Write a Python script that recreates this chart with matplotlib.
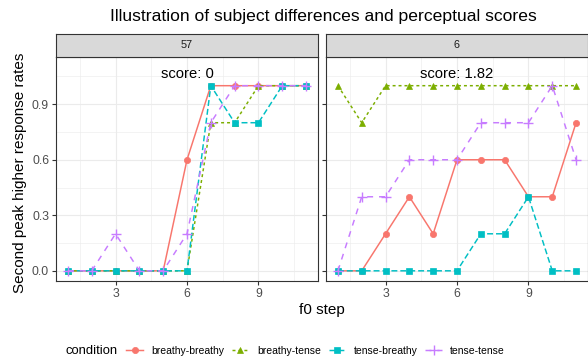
import matplotlib
matplotlib.use("Agg")
from matplotlib import pyplot as plt
from matplotlib.lines import Line2D

plt.rcParams['font.family'] = ['Liberation Sans', 'DejaVu Sans']

# data
steps = [1, 2, 3, 4, 5, 6, 7, 8, 9, 10, 11]
conditions = ["breathy-breathy", "breathy-tense", "tense-breathy", "tense-tense"]
subjects = ["57", "6"]
scores = ["score: 0", "score: 1.82"]

s57_bb = [0, 0, 0, 0, 0, 0.6, 1, 1, 1, 1, 1]
s57_bt = [0, 0, 0, 0, 0, 0, 0.8, 0.8, 1, 1, 1]
s57_tb = [0, 0, 0, 0, 0, 0, 1, 0.8, 0.8, 1, 1]
s57_tt = [0, 0, 0.2, 0, 0, 0.2, 0.8, 1, 1, 1, 1]

s6_bb = [0, 0, 0.2, 0.4, 0.2, 0.6, 0.6, 0.6, 0.4, 0.4, 0.8]
s6_bt = [1, 0.8, 1, 1, 1, 1, 1, 1, 1, 1, 1]
s6_tb = [0, 0, 0, 0, 0, 0, 0.2, 0.2, 0.4, 0, 0]
s6_tt = [0, 0.4, 0.4, 0.6, 0.6, 0.6, 0.8, 0.8, 0.8, 1, 0.6]

panel_data = [[s57_bb, s57_bt, s57_tb, s57_tt], [s6_bb, s6_bt, s6_tb, s6_tt]]

# ggplot style
colors = ["#F8766D", "#7CAE00", "#00BFC4", "#C77CFF"]
markers = ["o", "^", "s", "+"]
msizes = [4.5, 5, 4.3, 7]
dashes = ["-", (0, (2, 2)), (0, (4, 2)), (0, (4, 4))]
lw = 1.07

W, H = 588, 358
fig = plt.figure(figsize=(W / 100, H / 100), dpi=100)

p_left = [56, 326]
p_w = 262
p_top, p_bot = 57, 281
strip_top = 34

axes = []
for k in range(2):
    ax = fig.add_axes([p_left[k] / W, (H - p_bot) / H, p_w / W, (p_bot - p_top) / H])
    axes.append(ax)
    for i in range(4):
        ax.plot(steps, panel_data[k][i], color=colors[i], linestyle=dashes[i],
                linewidth=lw, marker=markers[i], markersize=msizes[i],
                markeredgewidth=1 if markers[i] == "+" else 0.5, zorder=3)
    ax.set_xlim(0.5, 11.5)
    ax.set_ylim(-0.055, 1.155)
    ax.set_xticks([3, 6, 9])
    ax.set_xticks([1.5, 4.5, 7.5, 10.5], minor=True)
    ax.set_yticks([0, 0.3, 0.6, 0.9])
    ax.set_yticks([0.15, 0.45, 0.75, 1.05], minor=True)
    ax.grid(which="major", color="#EBEBEB", linewidth=0.8)
    ax.grid(which="minor", color="#EBEBEB", linewidth=0.4)
    ax.set_axisbelow(True)
    for sp in ax.spines.values():
        sp.set_color("#333333")
        sp.set_linewidth(0.8)
    ax.tick_params(which="major", length=2.75, width=0.8, color="#333333",
                   labelsize=8.8, labelcolor="#4D4D4D", pad=2.2)
    ax.tick_params(which="minor", length=0)
    ax.text(6, 1.1, scores[k], ha="center", va="top", fontsize=10.6, color="black")

    # strip
    sax = fig.add_axes([p_left[k] / W, (H - p_top) / H, p_w / W, (p_top - strip_top) / H])
    sax.set_facecolor("#D9D9D9")
    sax.set_xticks([])
    sax.set_yticks([])
    for sp in sax.spines.values():
        sp.set_color("#333333")
        sp.set_linewidth(0.8)
    sax.text(0.5, 0.5, subjects[k], ha="center", va="center", fontsize=7.8,
             color="#1A1A1A", transform=sax.transAxes)

axes[1].set_yticklabels([])
axes[0].yaxis.set_major_formatter(plt.FormatStrFormatter("%.1f"))

fig.text(323 / W, 1 - 17 / H, "Illustration of subject differences and perceptual scores",
         ha="center", va="center", fontsize=12.6)
fig.text(20 / W, 1 - 173 / H, "Second peak higher response rates", rotation=90,
         ha="center", va="center", fontsize=11)
fig.text(322 / W, 1 - 310 / H, "f0 step", ha="center", va="center", fontsize=11)

# legend
handles = [Line2D([], [], color=colors[i], linestyle=dashes[i], linewidth=lw,
                  marker=markers[i], markersize=msizes[i],
                  markeredgewidth=1 if markers[i] == "+" else 0.5)
           for i in range(4)]
fig.text(66 / W, 1 - 351 / H, "condition", ha="left", va="center", fontsize=9.4)
fig.legend(handles, conditions, loc="center left", bbox_to_anchor=(126 / W, 1 - 351 / H),
           ncol=4, frameon=False, fontsize=7.5, handlelength=1.65,
           handletextpad=0.75, columnspacing=0.75, borderpad=0, borderaxespad=0)

fig.savefig("out.png", dpi=100)
